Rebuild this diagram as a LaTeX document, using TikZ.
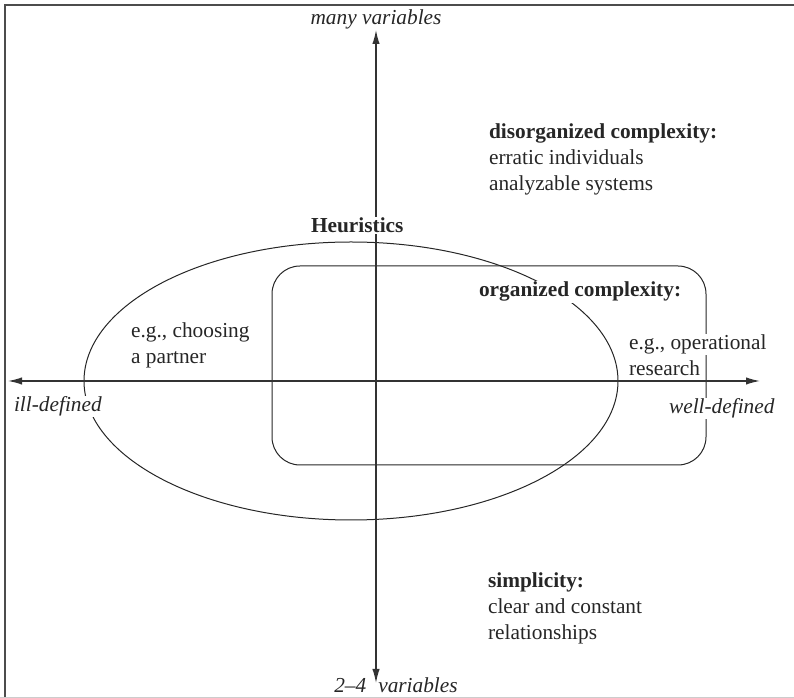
\documentclass[tikz,border=0pt]{standalone}
\usepackage{fontspec}
\setmainfont{Liberation Serif}
\usepackage{tikz}
\usetikzlibrary{arrows.meta}

\tikzset{
  axisline/.style={{Latex[length=10.5pt,width=5.5pt]}-{Latex[length=10.5pt,width=5.5pt]}, line width=0.95pt, draw=black!80},
  shapeline/.style={line width=0.75pt, draw=black!85},
  txt/.style={inner sep=0.6pt, fill=white, align=left, text=black!85, font=\fontsize{16}{19.5}\selectfont},
}

\begin{document}
\begin{tikzpicture}[x=0.75pt,y=0.75pt,yscale=-1,xscale=1]
\useasboundingbox (0,0) rectangle (794,698);
% Frame
\draw [line width=1.3pt, draw=black!70] (5,698) -- (5,5) -- (794,5) ;
\draw [line width=1pt, draw=black!20] (0,697.5) -- (794,697.5) ;
%Ellipse
\draw [shapeline] (351,381) ellipse [x radius=267, y radius=139] ;
%Rounded Rectangle
\draw [shapeline, rounded corners=21pt] (272,266) rectangle (706,465) ;
% Axis ends
\coordinate (west) at (8,381);
\coordinate (east) at (760,381);
\coordinate (top) at (376,30);
\coordinate (bottom) at (376,683);
%Straight Lines
\draw [axisline] (west) -- (east) ;
\draw [axisline] (bottom) -- (top) ;
% Text Node
\node (many) [txt, fill=none, anchor=base] at (376,25) {\itshape many variables};
% Text Node
\node (few) [txt, fill=none, anchor=base] at (396,693) {\itshape 2–4\hspace{9pt}variables};
% Text Node
\node (ill) [txt, anchor=base west] at (13,412) {\itshape ill-defined};
% Text Node
\node (well) [txt, anchor=base west] at (668,414) {\itshape well-defined};
% Text Node
\node (heur) [txt, anchor=base west] at (310,233) {\bfseries Heuristics};
% Text Node
\node (org) [txt, anchor=base west] at (478,297) {\bfseries organized complexity:};
% Text Node
\node (opA) [txt, anchor=base west] at (628,350) {e.g., operational};
% Text Node
\node (opB) [txt, anchor=base west] at (628,376) {research};
% Text Node (base = last line)
\node (choose) [txt, fill=none, anchor=base west] at (130,364) {e.g., choosing\\a partner};
% Text Node (base = last line)
\node (disorg) [txt, fill=none, anchor=base west] at (488,191) {\textbf{disorganized complexity:}\\erratic individuals\\analyzable systems};
% Text Node (base = last line)
\node (simple) [txt, fill=none, anchor=base west] at (487,640) {\textbf{simplicity:}\\clear and constant\\relationships};
\end{tikzpicture}
\end{document}
